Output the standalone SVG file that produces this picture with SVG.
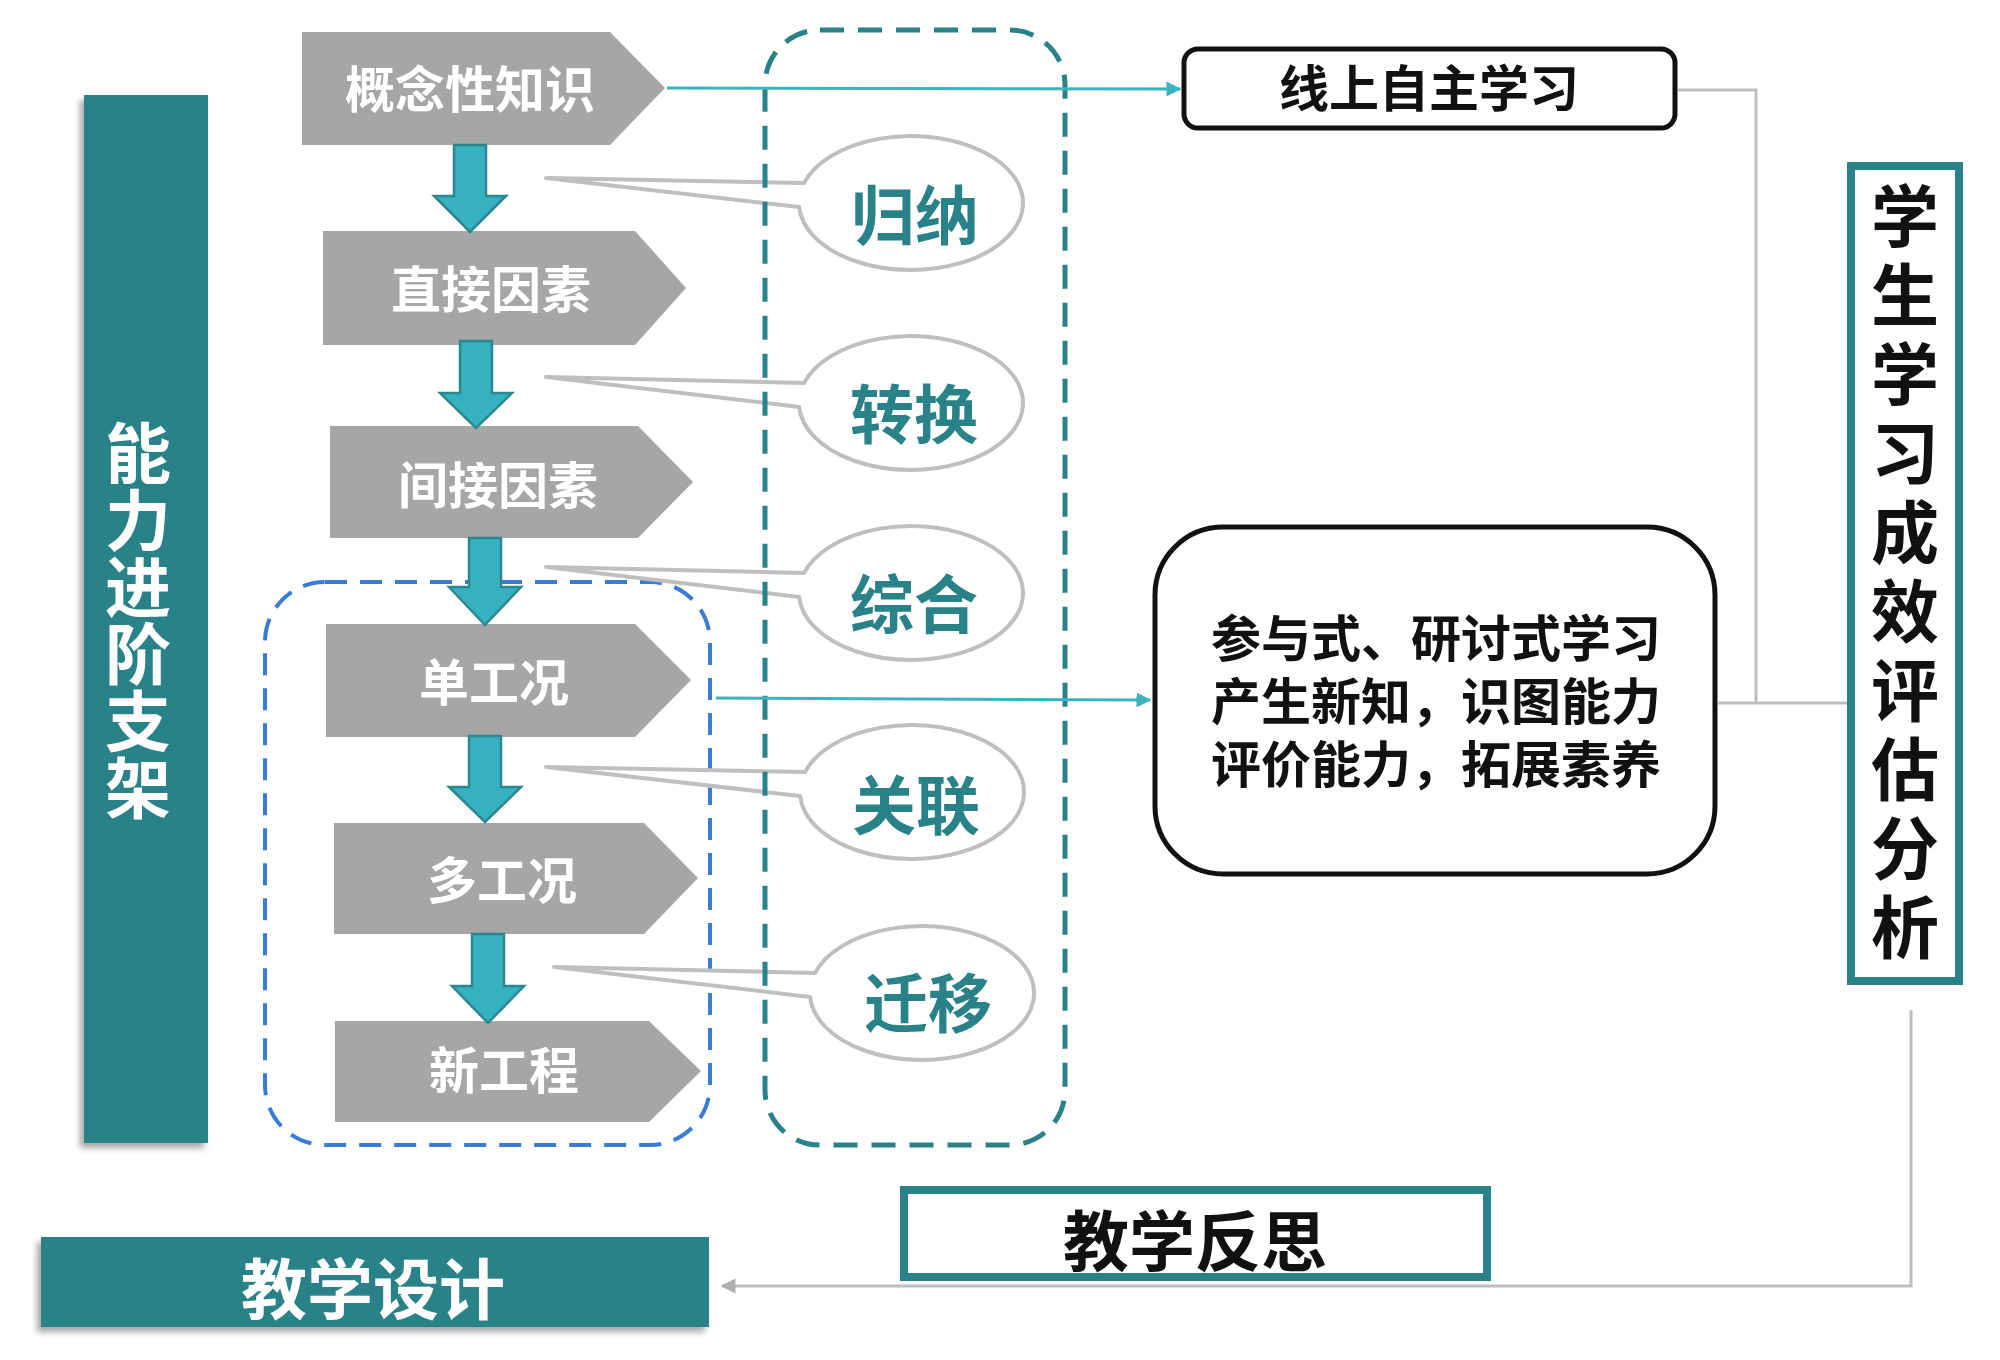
<svg xmlns="http://www.w3.org/2000/svg" width="2000" height="1360" viewBox="0 0 2000 1360">
<style>
.chev{fill:#A6A6A6}
.ct{font-family:"Noto Sans CJK SC","Noto Sans",sans-serif;font-weight:700;fill:#FFFFFF;font-size:50px;text-anchor:middle}
.darr{fill:#36B1BF;stroke:#2B8890;stroke-width:2.5;stroke-linejoin:miter}
.bub{fill:#FFFFFF;stroke:#BFBFBF;stroke-width:4;stroke-linejoin:round}
.bt{font-family:"Noto Sans CJK SC","Noto Sans",sans-serif;font-weight:700;fill:#2A8289;font-size:64px;text-anchor:middle}
.bk{font-family:"Noto Sans CJK SC","Noto Sans",sans-serif;font-weight:700;fill:#111111;text-anchor:middle}
.wt{font-family:"Noto Sans CJK SC","Noto Sans",sans-serif;font-weight:700;fill:#FFFFFF;text-anchor:middle}
.tl{stroke:#3CB4C0;stroke-width:3;fill:none}
.gl{stroke:#BFBFBF;stroke-width:3;fill:none}
</style>
<defs>
<filter id="sh" x="-20%" y="-20%" width="140%" height="140%">
<feDropShadow dx="-4" dy="5" stdDeviation="3" flood-color="#000000" flood-opacity="0.35"/>
</filter>
<marker id="mt" viewBox="0 0 10 10" refX="9" refY="5" markerWidth="5" markerHeight="5" orient="auto" markerUnits="strokeWidth">
<path d="M0,0 L10,5 L0,10 Z" fill="#3CB4C0"/>
</marker>
<marker id="mg" viewBox="0 0 10 10" refX="9" refY="5" markerWidth="5" markerHeight="5" orient="auto" markerUnits="strokeWidth">
<path d="M0,0 L10,5 L0,10 Z" fill="#AFAFAF"/>
</marker>
</defs>
<rect width="2000" height="1360" fill="#FFFFFF"/>

<g id="support-bar">
<rect x="84" y="95" width="124" height="1048" fill="#2A8289" filter="url(#sh)"/>
<text class="wt" font-size="66"><tspan x="138" y="478">能</tspan><tspan x="138" dy="67">力</tspan><tspan x="138" dy="67">进</tspan><tspan x="138" dy="67">阶</tspan><tspan x="138" dy="67">支</tspan><tspan x="138" dy="67">架</tspan></text>
</g>

<g id="group-blue">
<rect x="265" y="582" width="445" height="563" rx="60" ry="60" fill="none" stroke="#3A7BD5" stroke-width="4" stroke-dasharray="22 13"/>
</g>

<g id="chev1"><polygon class="chev" points="302,32 610,32 665,88 610,145 302,145"/><text class="ct" x="470" y="108">概念性知识</text></g>
<g id="chev2"><polygon class="chev" points="323,231 635,231 686,288 635,345 323,345"/><text class="ct" x="491" y="308">直接因素</text></g>
<g id="chev3"><polygon class="chev" points="330,426 638,426 693,482 638,538 330,538"/><text class="ct" x="498" y="504">间接因素</text></g>
<g id="chev4"><polygon class="chev" points="326,624 635,624 691,680 635,737 326,737"/><text class="ct" x="494" y="701">单工况</text></g>
<g id="chev5"><polygon class="chev" points="334,823 644,823 698,878 644,934 334,934"/><text class="ct" x="502" y="899">多工况</text></g>
<g id="chev6"><polygon class="chev" points="335,1021 649,1021 701,1071 649,1122 335,1122"/><text class="ct" x="504" y="1089">新工程</text></g>

<g id="bubble1"><path class="bub" d="M546,178 L804.1,183 A112,67 0 1 1 799.2,207 Z"/><text class="bt" x="915" y="239">归纳</text></g>
<g id="bubble2"><path class="bub" d="M546,377 L804.1,383 A112,67 0 1 1 799.2,407 Z"/><text class="bt" x="914" y="438">转换</text></g>
<g id="bubble3"><path class="bub" d="M546,567 L804.1,573 A112,67 0 1 1 799.2,597 Z"/><text class="bt" x="914" y="628">综合</text></g>
<g id="bubble4"><path class="bub" d="M546,767 L805.1,772 A112,67 0 1 1 800.2,796 Z"/><text class="bt" x="916" y="829">关联</text></g>
<g id="bubble5"><path class="bub" d="M554,967 L815.1,973 A112,67 0 1 1 810.2,997 Z"/><text class="bt" x="928" y="1027">迁移</text></g>

<g id="group-teal">
<rect x="765" y="30" width="300" height="1115" rx="55" ry="55" fill="none" stroke="#2A8289" stroke-width="5" stroke-dasharray="24 14"/>
</g>

<g id="online-box">
<rect x="1184" y="49" width="491" height="79" rx="14" ry="14" fill="#FFFFFF" stroke="#111111" stroke-width="5"/>
<text class="bk" font-size="50" x="1429" y="107">线上自主学习</text>
</g>

<g id="discuss-box">
<rect x="1155" y="527" width="560" height="347" rx="68" ry="68" fill="#FFFFFF" stroke="#111111" stroke-width="5"/>
<text class="bk" font-size="50" x="1436" y="657">参与式、研讨式学习</text>
<text class="bk" font-size="50" x="1436" y="720">产生新知，识图能力</text>
<text class="bk" font-size="50" x="1436" y="783">评价能力，拓展素养</text>
</g>

<g id="eval-box">
<rect x="1851" y="166" width="108" height="815" fill="#FFFFFF" stroke="#2A8289" stroke-width="8"/>
<text class="bk" font-size="68"><tspan x="1905" y="242">学</tspan><tspan x="1905" dy="79">生</tspan><tspan x="1905" dy="79">学</tspan><tspan x="1905" dy="79">习</tspan><tspan x="1905" dy="79">成</tspan><tspan x="1905" dy="79">效</tspan><tspan x="1905" dy="79">评</tspan><tspan x="1905" dy="79">估</tspan><tspan x="1905" dy="79">分</tspan><tspan x="1905" dy="79">析</tspan></text>
</g>

<g id="reflect-box">
<rect x="904" y="1190" width="583" height="87" fill="#FFFFFF" stroke="#2A8289" stroke-width="8"/>
<text class="bk" font-size="66" x="1195" y="1266">教学反思</text>
</g>

<g id="design-box">
<rect x="41" y="1237" width="668" height="90" fill="#2A8289" filter="url(#sh)"/>
<text class="wt" font-size="66" x="373" y="1314">教学设计</text>
</g>

<g id="connectors">
<polygon class="darr" points="454,145 486,145 486,196 506,196 470,232 434,196 454,196"/>
<polygon class="darr" points="460,341 492,341 492,393 512,393 476,428 440,393 460,393"/>
<polygon class="darr" points="469,538 501,538 501,587 521,587 485,625 449,587 469,587"/>
<polygon class="darr" points="469,736 501,736 501,787 521,787 485,822 449,787 469,787"/>
<polygon class="darr" points="472,934 504,934 504,986 524,986 488,1023 452,986 472,986"/>
<line class="tl" x1="667" y1="88" x2="1180" y2="89" marker-end="url(#mt)"/>
<line class="tl" x1="716" y1="698" x2="1150" y2="700" marker-end="url(#mt)"/>
<polyline class="gl" points="1678,90 1756,90 1756,703"/>
<line class="gl" x1="1718" y1="703" x2="1847" y2="703"/>
<polyline class="gl" points="1911,1010 1911,1286 722,1286" marker-end="url(#mg)"/>
</g>
</svg>
